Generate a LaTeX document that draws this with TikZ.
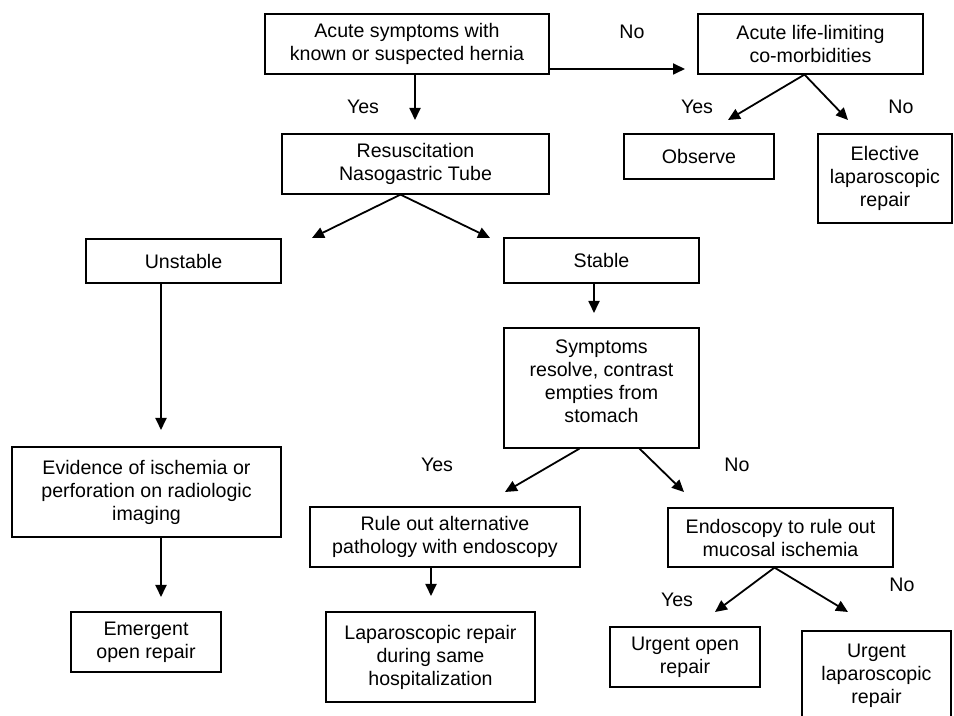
\documentclass[tikz,border=0pt]{standalone}
\usepackage{fontspec}
\setmainfont{Liberation Sans}
\usetikzlibrary{arrows.meta}

\begin{document}
\begin{tikzpicture}[x=0.5pt, y=-0.5pt,
      box/.style={rectangle, draw, line width=0.6pt, align=center,
                  inner sep=0pt, font=\fontsize{9.8}{11.5}\selectfont},
      lbl/.style={font=\fontsize{9.8}{11.5}\selectfont},
      arr/.style={-{Triangle[length=6pt,width=5.5pt]}, line width=0.9pt}]
  \useasboundingbox (0,0) rectangle (954,716);

  % top row
  \node[box, minimum width=142pt, minimum height=30pt] (acute) at (407,44)
        {Acute symptoms with\\known or suspected hernia};
  \node[box, minimum width=112.5pt, minimum height=30pt] (life) at (810.5,44)
        {Acute life-limiting\\co-morbidities};
  \node[box, minimum width=133.5pt, minimum height=30pt] (resus) at (415.5,164)
        {Resuscitation\\Nasogastric Tube};
  \node[box, minimum width=75pt, minimum height=22.5pt] (observe) at (699,156.5)
        {Observe};
  \node[box, minimum width=67pt, minimum height=44.5pt] (elective) at (885,178.5)
        {Elective\\laparoscopic\\repair};

  % stable / unstable branch
  \node[box, minimum width=97.5pt, minimum height=22pt] (unstable) at (183.5,261)
        {Unstable};
  \node[box, minimum width=97.5pt, minimum height=22.5pt] (stable) at (601.5,260.5)
        {Stable};
  \node[box, minimum width=97.5pt, minimum height=60pt] (resolve) at (601.5,388)
        {Symptoms\\resolve, contrast\\empties from\\stomach\\[-4.5pt]};
  \node[box, minimum width=134.5pt, minimum height=45pt] (ischemia) at (146.5,492)
        {Evidence of ischemia or\\perforation on radiologic\\imaging};
  \node[box, minimum width=135pt, minimum height=30pt] (ruleout) at (445,537)
        {Rule out alternative\\pathology with endoscopy};
  \node[box, minimum width=112.5pt, minimum height=29.5pt] (endo) at (780.5,537.5)
        {Endoscopy to rule out\\mucosal ischemia};

  % outcomes
  \node[box, minimum width=75pt, minimum height=30pt] (emergent) at (146,642)
        {Emergent\\open repair};
  \node[box, minimum width=104.5pt, minimum height=45pt] (samestay) at (430.5,657)
        {Laparoscopic repair\\during same\\hospitalization};
  \node[box, minimum width=75pt, minimum height=30pt] (uopen) at (685,657)
        {Urgent open\\repair};
  \node[box, minimum width=74.5pt, minimum height=44.5pt] (ulap) at (876.5,675.5)
        {Urgent\\laparoscopic\\repair};

  % arrow tips
  \coordinate (tLife) at (685,69);
  \coordinate (tResus) at (415,120);
  \coordinate (tObserve) at (728,120);
  \coordinate (tElective) at (848,120);
  \coordinate (tUnstable) at (312,238);
  \coordinate (tStable) at (490,238);
  \coordinate (tIschemia) at (161,430);
  \coordinate (tResolve) at (594,313);
  \coordinate (tRuleout) at (505,492);
  \coordinate (tEndo) at (684,492);
  \coordinate (tEmergent) at (161,597);
  \coordinate (tSamestay) at (431,596);
  \coordinate (tUopen) at (715,612);
  \coordinate (tUlap) at (848,612);

  \draw[arr] (acute.east |- tLife) -- (tLife);
  \draw[arr] (acute.south -| tResus) -- (tResus);
  \draw[arr] ([shift={(-6,0)}]life.south) -- (tObserve);
  \draw[arr] ([shift={(-6,0)}]life.south) -- (tElective);
  \draw[arr] ([shift={(-15,0)}]resus.south) -- (tUnstable);
  \draw[arr] ([shift={(-15,0)}]resus.south) -- (tStable);
  \draw[arr] (unstable.south -| tIschemia) -- (tIschemia);
  \draw[arr] (stable.south -| tResolve) -- (tResolve);
  \draw[arr] ([shift={(-22,0)}]resolve.south) -- (tRuleout);
  \draw[arr] ([shift={(38,0)}]resolve.south) -- (tEndo);
  \draw[arr] (ischemia.south -| tEmergent) -- (tEmergent);
  \draw[arr] (ruleout.south -| tSamestay) -- (tSamestay);
  \draw[arr] ([shift={(-6,0)}]endo.south) -- (tUopen);
  \draw[arr] ([shift={(-6,0)}]endo.south) -- (tUlap);

  % yes / no labels
  \node[lbl] (no1) at (632,32) {No};
  \node[lbl] (yes1) at (363,107) {Yes};
  \node[lbl] (yes2) at (697,107) {Yes};
  \node[lbl] (no2) at (901,107) {No};
  \node[lbl] (yes3) at (437,465) {Yes};
  \node[lbl] (no3) at (737,465) {No};
  \node[lbl] (yes4) at (677,600) {Yes};
  \node[lbl] (no4) at (902,585) {No};
\end{tikzpicture}
\end{document}
